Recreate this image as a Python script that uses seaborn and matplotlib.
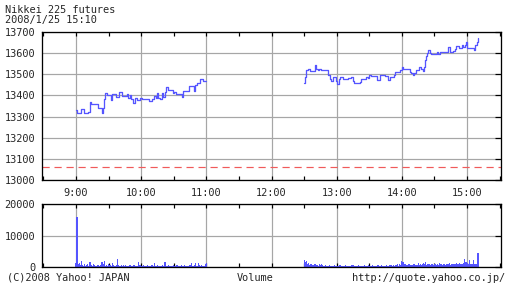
import numpy as np
import pandas as pd
import matplotlib
matplotlib.use("Agg")
import matplotlib.pyplot as plt
import seaborn as sns

# ---------------- data (minutes after 9:00) ----------------
am_minutes = [0, 1, 5, 7, 11, 13, 14, 20, 24, 25, 26, 27, 29, 32, 33, 37, 40, 42, 47, 48,
              50, 51, 53, 54, 56, 59, 61, 67, 70, 72, 74, 75, 76, 77, 79, 80, 82, 83, 85, 89,
              90, 92, 94, 98, 99, 104, 109, 110, 111, 114, 117, 120]
am_price = [13331, 13315, 13334, 13315, 13323, 13367, 13358, 13339, 13318, 13339,
            13382, 13410, 13400, 13377, 13405, 13393, 13418, 13395, 13405, 13388,
            13400, 13385, 13365, 13390, 13378, 13388, 13382, 13375, 13382, 13398,
            13390, 13412, 13390, 13385, 13410, 13392, 13415, 13438, 13428, 13412,
            13418, 13408, 13405, 13392, 13422, 13443, 13422, 13450, 13460, 13476,
            13467, 13467]

pm_minutes = [210, 211, 212, 214, 215, 220, 221, 223, 224, 226,
              232, 234, 235, 237, 239, 240, 242, 243, 246, 250,
              252, 253, 255, 256, 261, 262, 267, 269, 270, 272,
              277, 280, 284, 287, 289, 293, 294, 298, 300, 301,
              307, 308, 310, 311, 313, 316, 318, 319, 320, 321,
              322, 323, 324, 326, 327, 332, 333, 335, 342, 344,
              347, 349, 350, 353, 355, 356, 358, 359, 360, 366,
              367, 369, 370]
pm_price = [13457, 13485, 13520, 13527, 13515, 13544, 13527, 13520, 13525, 13520,
            13497, 13478, 13468, 13488, 13468, 13452, 13478, 13485, 13478, 13482,
            13484, 13488, 13468, 13457, 13464, 13477, 13489, 13481, 13498, 13492,
            13472, 13496, 13490, 13475, 13485, 13498, 13512, 13520, 13536, 13525,
            13512, 13505, 13495, 13505, 13520, 13536, 13523, 13515, 13536, 13568,
            13587, 13603, 13615, 13603, 13598, 13607, 13598, 13607, 13628, 13607,
            13612, 13618, 13634, 13623, 13637, 13628, 13637, 13654, 13622, 13615,
            13637, 13654, 13670]

prev_close = 13060

# volume per minute: morning 9:00-11:00, afternoon 12:30-15:10
am_volume = [1200, 16000, 900, 1300, 700, 1900, 600, 400, 1100, 300,
             500, 800, 400, 1500, 700, 300, 900, 600, 400, 200,
             700, 500, 300, 600, 1600, 800, 1900, 400, 700, 300,
             1000, 500, 700, 400, 1200, 600, 300, 500, 2500, 700,
             400, 300, 600, 300, 500, 400, 700, 300, 200, 500,
             600, 300, 400, 700, 500, 300, 400, 200, 1700, 600,
             400, 300, 500, 200, 400, 300, 600, 200, 300, 400,
             500, 300, 1200, 400, 300, 500, 300, 400, 200, 300,
             500, 300, 1600, 400, 300, 600, 200, 300, 400, 300,
             500, 400, 300, 700, 300, 400, 300, 500, 400, 300,
             600, 300, 200, 400, 300, 500, 1300, 400, 300, 600,
             1200, 400, 300, 1300, 500, 400, 700, 300, 400, 1100,
             1300]
pm_volume = [2200, 1500, 1900, 800, 1400, 600, 900, 1100, 500, 700,
             800, 500, 600, 400, 900, 700, 1100, 500, 400, 300,
             600, 400, 300, 500, 200, 400, 300, 200, 500, 300,
             400, 200, 300, 500, 300, 200, 400, 300, 500, 200,
             300, 400, 200, 300, 500, 600, 300, 200, 400, 300,
             500, 300, 400, 200, 300, 400, 600, 300, 200, 500,
             300, 400, 200, 500, 300, 400, 300, 200, 500, 400,
             300, 600, 400, 300, 200, 400, 500, 300, 400, 600,
             500, 300, 700, 400, 600, 500, 800, 400, 1100, 700,
             2000, 1500, 900, 1100, 700, 600, 1000, 800, 700, 500,
             600, 1100, 800, 500, 700, 1200, 600, 900, 700, 800,
             1200, 900, 1500, 700, 1000, 800, 600, 900, 1100, 700,
             800, 1000, 600, 900, 700, 1200, 800, 600, 900, 1000,
             700, 1100, 800, 900, 1300, 700, 1000, 800, 1100, 900,
             1200, 800, 1000, 1300, 900, 1100, 1000, 1400, 2500, 1700,
             1200, 1000, 2200, 900, 1100, 800, 2200, 1000, 800, 1000,
             4500]

price_ticks = [13000, 13100, 13200, 13300, 13400, 13500, 13600, 13700]
hour_ticks = [9, 10, 11, 12, 13, 14, 15]
hour_labels = ["9:00", "10:00", "11:00", "12:00", "13:00", "14:00", "15:00"]
vol_ticks = [0, 10000, 20000]

# ---------------- frames ----------------
price_df = pd.DataFrame({
    "t": [9 + m / 60 for m in am_minutes] + [9 + m / 60 for m in pm_minutes],
    "price": am_price + pm_price,
    "session": ["am"] * len(am_minutes) + ["pm"] * len(pm_minutes),
})
vol_min = list(range(0, len(am_volume))) + list(range(210, 210 + len(pm_volume)))
vol_df = pd.DataFrame({"t": [9 + m / 60 for m in vol_min],
                       "vol": am_volume + pm_volume})

# ---------------- style ----------------
sns.set_style("white")
plt.rcParams["font.family"] = ["DejaVu Sans Mono"]
FS = 7.4
BLUE = "#5555ff"
GRID = "#a6a6a6"
PX = 0.72  # one pixel in points

fig = plt.figure(figsize=(5.12, 2.88), dpi=100)
ax = fig.add_axes([42 / 512, 108 / 288, 459 / 512, 148 / 288])
axv = fig.add_axes([42 / 512, 21 / 288, 459 / 512, 63 / 288])

XLIM = (8.48, 15.52)


def style_axes(a):
    a.set_xlim(*XLIM)
    a.set_xticks(hour_ticks)
    a.set_xticks([h + 0.5 for h in [8] + hour_ticks], minor=True)
    a.grid(True, which="major", color=GRID, linewidth=1.2 * PX, zorder=0)
    a.tick_params(axis="x", which="both", direction="in", top=True, bottom=True,
                  length=3, width=1.2 * PX, color="black", labelsize=FS, pad=6)
    a.tick_params(axis="y", which="both", direction="in", left=False, right=True,
                  length=4, width=1.2 * PX, color="black", labelsize=FS, pad=5)
    for s in a.spines.values():
        s.set_color("black")
        s.set_linewidth(1.3 * PX)
        s.set_zorder(5)
    a.set_axisbelow(True)
    a.set_xlabel("")
    a.set_ylabel("")


# price chart
sns.lineplot(data=price_df, x="t", y="price", units="session", estimator=None,
             drawstyle="steps-post", color=BLUE, linewidth=1.3 * PX, ax=ax, zorder=3,
             legend=False)
ax.axhline(prev_close, color="#f05a5a", linewidth=1.2 * PX, dashes=(6, 4), zorder=2)
ax.set_ylim(13000, 13700)
ax.set_yticks(price_ticks)
ax.set_yticklabels([str(v) for v in price_ticks])
style_axes(ax)
ax.set_xticklabels(hour_labels)
ax.tick_params(axis="x", which="both", labelbottom=True)

# volume chart
edges = [9 + (m - 0.5) / 60 for m in range(0, 372)]
sns.histplot(data=vol_df, x="t", weights="vol", bins=edges, color=BLUE,
             element="bars", fill=True, linewidth=0, alpha=1.0, ax=axv, zorder=3)
axv.set_ylim(0, 20000)
axv.set_yticks(vol_ticks)
axv.set_yticklabels([str(v) for v in vol_ticks])
style_axes(axv)
axv.tick_params(axis="x", which="both", labelbottom=False)

# texts
fig.text(5 / 512, 1 - 10 / 288, "Nikkei 225 futures", fontsize=FS, va="center", ha="left")
fig.text(5 / 512, 1 - 20 / 288, "2008/1/25 15:10", fontsize=FS, va="center", ha="left")
fig.text(7 / 512, 1 - 278 / 288, "(C)2008 Yahoo! JAPAN", fontsize=FS, va="center", ha="left")
fig.text(237 / 512, 1 - 278 / 288, "Volume", fontsize=FS, va="center", ha="left")
fig.text(505 / 512, 1 - 278 / 288, "http://quote.yahoo.co.jp/", fontsize=FS, va="center", ha="right")

fig.savefig("out.png", dpi=100)
